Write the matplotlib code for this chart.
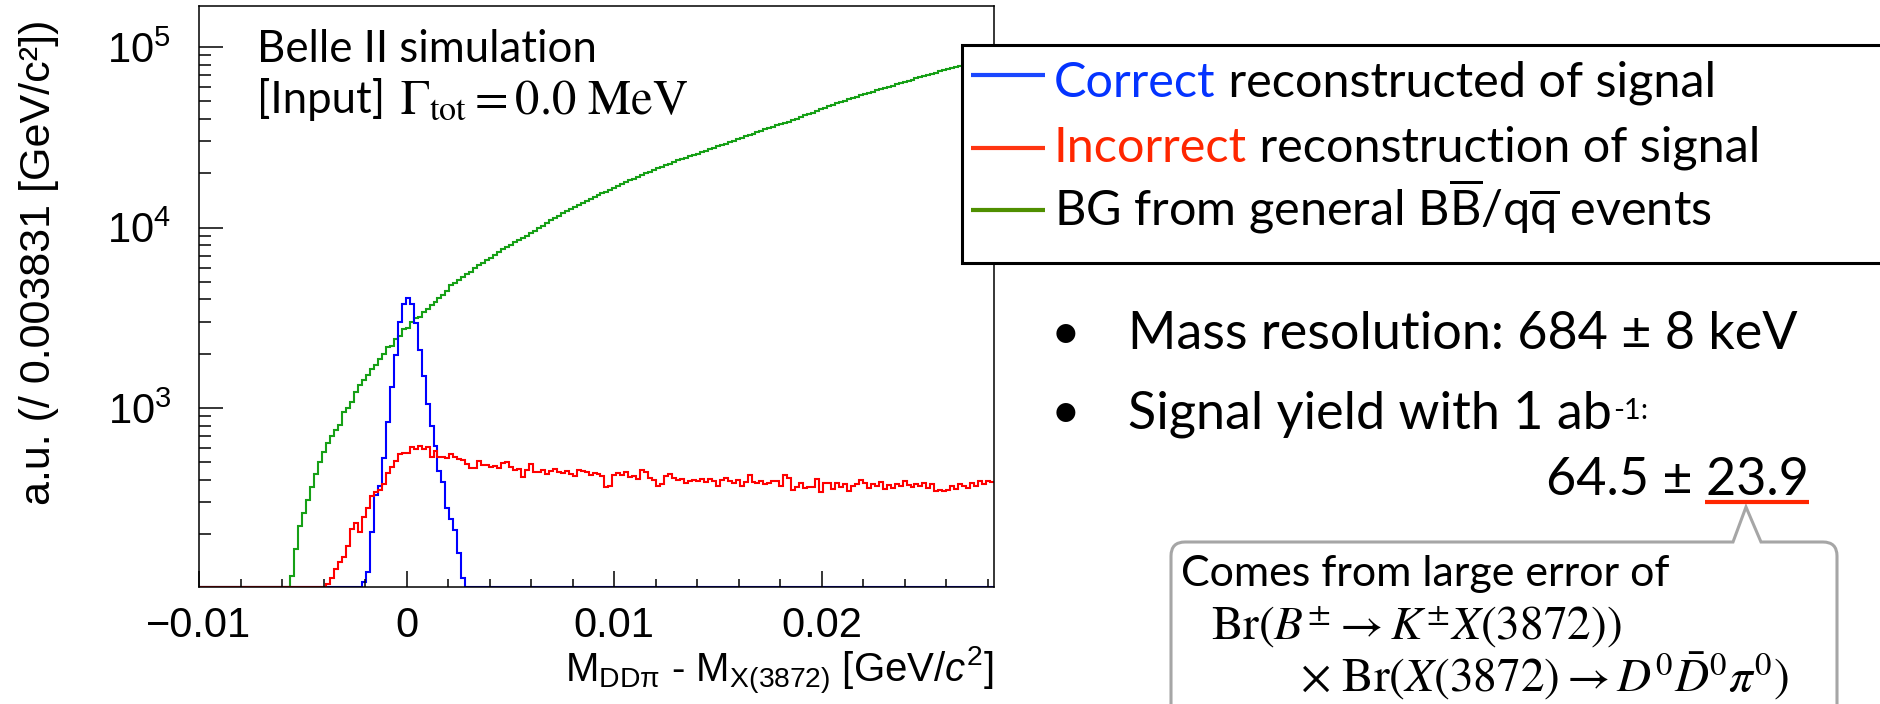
import numpy as np
import matplotlib.pyplot as plt
from matplotlib.path import Path
from matplotlib.patches import PathPatch, Rectangle
from matplotlib.ticker import MultipleLocator, NullFormatter

plt.rcParams['font.family'] = ['Liberation Sans', 'DejaVu Sans']
plt.rcParams['mathtext.fontset'] = 'custom'
plt.rcParams['mathtext.rm'] = 'Liberation Sans'
plt.rcParams['mathtext.it'] = 'Liberation Sans:italic'
plt.rcParams['mathtext.sf'] = 'Lato'

# binning: 200 bins over the mass difference window [GeV/c^2]
x_lo, x_hi, n_bins = -0.01, 0.0283, 200
edges = np.linspace(x_lo, x_hi, n_bins + 1)
y_lo, y_hi = 102, 1.69e5

# correctly reconstructed signal (bins 41..66 filled)
correct = [0] * 41 + [
    109, 124, 206, 330, 372, 526, 839, 1303, 1966, 2985, 3767, 4056, 3767,
    2946, 2095, 1511, 1052, 798, 618, 448, 387, 281, 242, 211, 157, 114,
] + [0] * 133

# incorrectly reconstructed signal (bins 32..199 filled)
incorrect = [0] * 32 + [
    106, 115, 128, 140, 150, 173, 215, 230, 205, 248, 278, 325, 341, 351,
    379, 438, 473, 509, 556, 565, 565, 611, 591, 618, 591, 611, 537, 580,
    537, 537, 531, 556, 537, 521, 515, 490, 464, 464, 511, 484,
    482, 470, 478, 465, 498, 500, 470, 455, 458, 415, 452, 490, 445, 440,
    452, 430, 446, 460, 440, 436, 448, 430, 418, 455, 450, 440, 425, 438,
    430, 420, 367, 372, 428, 436, 425, 440, 416, 420, 405, 452, 445, 410,
    400, 372, 380, 420, 433, 410, 398, 405, 385, 392, 402, 395,
    403, 390, 405, 394, 371, 399, 411, 394, 386, 399, 371, 390, 424, 390,
    386, 396, 380, 383, 396, 393, 370, 427, 411, 351, 367, 383, 359, 367,
    367, 405, 344, 386, 383, 356, 383, 367, 378, 348,
    372, 380, 402, 385, 362, 378, 370, 388, 356, 375, 360, 382, 370, 392,
    374, 366, 380, 372, 386, 360, 378, 348, 352, 345, 350, 368, 358, 382,
    372, 360, 385, 370, 395, 380, 392, 390,
]

# generic BB / qq background (bins 23..199 filled)
background = [0] * 23 + [
    118, 165, 222, 262, 310, 365, 430, 505, 570, 640, 700, 760, 805,
    954, 996, 1080, 1231, 1335, 1429, 1523, 1638, 1730, 1861, 1991, 2187,
    2212, 2400, 2506, 2729, 2785, 2985, 3142, 3204, 3420, 3520, 3723, 3880,
    4053, 4226, 4467, 4800, 4950, 5120,
    5300, 5530, 5700, 5950,
    6180, 6350, 6600, 6820, 7050, 7300, 7580,
    7800, 8020, 8300, 8520, 8780, 9020, 9300,
    9620, 9950, 10250, 10600, 10950, 11300, 11650, 12000,
    12350, 12700, 13050, 13400, 13750, 14100, 14450, 14800, 15150, 15500,
    15850, 16250, 16650, 17050, 17450, 17850, 18250, 18650, 19100,
    19500, 19950, 20400, 20850, 21300, 21750, 22200, 22650, 23100, 23550,
    24000, 24400, 24800, 25200,
    25700, 26200, 26700, 27200, 27700, 28200, 28700, 29200, 29700, 30200,
    30800, 31400, 32000, 32600,
    33200, 33800, 34400, 35000, 35600, 36200, 36800, 37400, 38000, 38700,
    39400, 40100, 41000,
    41800, 42600, 43400, 44300, 45200, 46100, 47000, 47900, 48800, 49700,
    50600, 51500, 52300, 53100,
    54000, 54900, 55800, 56700, 57600, 58500, 59400, 60300, 61200, 62100,
    63100, 64100, 65100, 66100,
    67100, 68100, 69100, 70100, 71200, 72300, 73400, 74500, 75600, 76700,
    77800, 78900, 80000,
    81000, 82000, 83000, 84000, 85000, 86000, 87000,
]

x_ticks = [-0.01, 0, 0.01, 0.02]
x_tick_labels = ['\u22120.01', '0', '0.01', '0.02']

fig = plt.figure(figsize=(18.81, 7.04), dpi=100)
ax = fig.add_axes([199 / 1881, 1 - 587 / 704, 795 / 1881, 581 / 704])

# empty bins sit on the lower edge of the frame, as in ROOT
for vals, col in [(background, '#16a016'), (correct, '#0000ff'), (incorrect, '#ff0000')]:
    ax.stairs(np.clip(np.array(vals, float), y_lo, None), edges,
              baseline=None, color=col, lw=1.5)

ax.set_yscale('log')
ax.set_xlim(x_lo, x_hi)
ax.set_ylim(y_lo, y_hi)
ax.set_xticks(x_ticks, x_tick_labels)
ax.xaxis.set_minor_locator(MultipleLocator(0.002))
ax.yaxis.set_minor_formatter(NullFormatter())
ax.tick_params(which='both', direction='in', top=False, right=False, width=1.1)
ax.tick_params(axis='x', which='major', length=11.5, labelsize=30, pad=14)
ax.tick_params(axis='x', which='minor', length=5.8)
ax.tick_params(axis='y', which='major', length=17.5, labelsize=30, pad=20)
ax.tick_params(axis='y', which='minor', length=8.6)
for sp in ax.spines.values():
    sp.set_linewidth(1.1)

# overlay in pixel coordinates (y pointing down) for labels and slide text
ov = fig.add_axes([0, 0, 1, 1])
ov.set_xlim(0, 1881)
ov.set_ylim(704, 0)
ov.axis('off')

ov.text(39, 262, 'a.u. (/ 0.003831 [GeV/c\u00b2])', rotation=90,
        ha='center', va='center', fontsize=31)
ov.text(994, 682, r'M$_{\mathregular{DD\pi}}$ - M$_{\mathregular{X(3872)}}$ [GeV/$\mathit{c}^{\mathregular{2}}$]',
        ha='right', va='baseline', fontsize=29)

ov.text(257, 62, 'Belle II simulation', family='Lato', fontsize=31.5, va='baseline')
ov.text(257, 113, '[Input]', family='Lato', fontsize=31.5, va='baseline')
ov.text(400, 113, r'$\Gamma_{\mathrm{tot}} = 0.0\ \mathrm{MeV}$', math_fontfamily='stix',
        fontsize=35, va='baseline')

# legend box
ov.add_patch(Rectangle((962, 45), 1000, 218, facecolor='white', edgecolor='black', lw=2.2))
legend_rows = [
    (75, 97, '#1a47ff', 'Correct', '#0433ff', ' reconstructed of signal'),
    (148, 162, '#ff3512', 'Incorrect', '#ff2600', ' reconstruction of signal'),
    (210, 225, '#4f8f00', r'BG from general B$\overline{\mathsf{B}}$/q$\overline{\mathsf{q}}$ events', 'black', ''),
]
for y_line, y_txt, lcol, head, hcol, tail in legend_rows:
    ov.plot([971, 1045], [y_line, y_line], color=lcol, lw=3, solid_capstyle='butt')
    t = ov.text(1054, y_txt, head, color=hcol, family='Lato', fontsize=35, va='baseline')
    if tail:
        ov.annotate(tail, xy=(1, 0), xycoords=t, va='bottom', ha='left',
                    family='Lato', fontsize=35, color='black')

# bullet points
for yb in (349, 428):
    ov.text(1065, yb, '\u2022', family='Lato', fontsize=37, ha='center', va='baseline')
ov.text(1128, 349, 'Mass resolution: 684 \u00b1 8 keV', family='Lato', fontsize=37.5, va='baseline')
t = ov.text(1128, 428, 'Signal yield with 1 ab', family='Lato', fontsize=37.5, va='baseline')
ov.annotate('-1:', xy=(1, 1), xycoords=t, xytext=(1, -6), textcoords='offset points',
            va='top', ha='left', family='Lato', fontsize=21)
ov.text(1809, 495, '64.5 \u00b1 23.9', family='Lato', fontsize=37.5, ha='right', va='baseline')
ov.plot([1705, 1809], [502, 502], color='#ff2600', lw=3, solid_capstyle='butt')

# callout pointing at the error
L, T, R, B, r = 1171, 542, 1837, 760, 14
verts = [(L + r, T), (1733, T), (1746, 507), (1761, T), (R - r, T), (R, T), (R, T + r),
         (R, B), (L, B), (L, T + r), (L, T), (L + r, T), (L + r, T)]
codes = [Path.MOVETO, Path.LINETO, Path.LINETO, Path.LINETO, Path.LINETO, Path.CURVE3,
         Path.CURVE3, Path.LINETO, Path.LINETO, Path.LINETO, Path.CURVE3, Path.CURVE3,
         Path.CLOSEPOLY]
ov.add_patch(PathPatch(Path(verts, codes), facecolor='white', edgecolor='#a6a6a6', lw=2.2))
ov.text(1181, 586, 'Comes from large error of', family='Lato', fontsize=31, va='baseline')
ov.text(1211, 640, r'$\mathrm{Br}(B^{\pm} \rightarrow K^{\pm}X(3872))$', math_fontfamily='stix',
        fontsize=34, va='baseline')
ov.text(1300, 692, r'$\times\ \mathrm{Br}(X(3872) \rightarrow D^{0}\bar{D}^{0}\pi^{0})$',
        math_fontfamily='stix', fontsize=34, va='baseline')

fig.savefig('out.png', dpi=100)
